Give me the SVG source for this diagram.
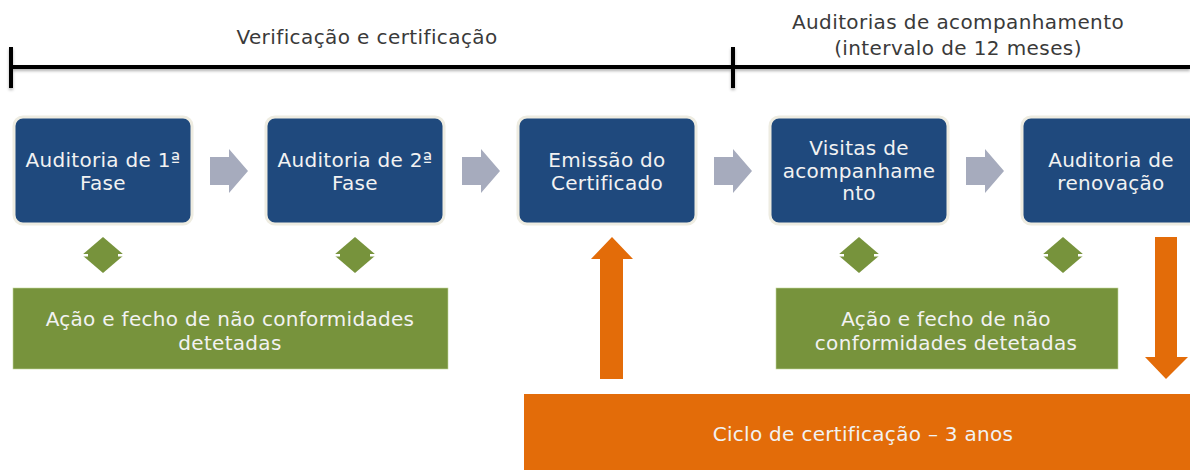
<svg xmlns="http://www.w3.org/2000/svg" width="1190" height="470" viewBox="0 0 1190 470">
<defs>
<style>
.hdr{font-family:"DejaVu Sans","Liberation Sans",sans-serif;font-size:20px;letter-spacing:0.4px;fill:#3a3a3a;text-anchor:middle}
.bt{font-family:"DejaVu Sans","Liberation Sans",sans-serif;font-size:20px;letter-spacing:0.3px;fill:#f2f2f2;text-anchor:middle}
.box{fill:#1f497d;stroke:#eeece1;stroke-width:3}
.grn{fill:#77933c;stroke:#c3d69b;stroke-width:0.6}
.org{fill:#e36c09}
.gray{fill:#a6abbd}
.dia{fill:#77933c}
.notch{fill:#ffffff}
.tl{stroke:#000;stroke-width:4;fill:none}
</style>
<filter id="sh" x="-5%" y="-50%" width="110%" height="200%">
<feDropShadow dx="0" dy="2" stdDeviation="1.5" flood-color="#000" flood-opacity="0.3"/>
</filter>
</defs>
<g id="timeline" filter="url(#sh)">
<line class="tl" x1="11" y1="67" x2="1190" y2="67"/>
<line class="tl" x1="11" y1="47" x2="11" y2="88"/>
<line class="tl" x1="733" y1="47" x2="733" y2="88"/>
</g>
<g id="labels">
<text class="hdr" x="367" y="44">Verificação e certificação</text>
<text class="hdr" x="958" y="29">Auditorias de acompanhamento</text>
<text class="hdr" x="958" y="55">(intervalo de 12 meses)</text>
</g>
<g id="connectors">
<polygon class="gray" points="210,157 229,157 229,149 248,171 229,193 229,185 210,185"/>
<polygon class="gray" points="462,157 481,157 481,149 500,171 481,193 481,185 462,185"/>
<polygon class="gray" points="714,157 733,157 733,149 752,171 733,193 733,185 714,185"/>
<polygon class="gray" points="966,157 985,157 985,149 1004,171 985,193 985,185 966,185"/>
<polygon class="org" points="600,379 623,379 623,259 633,259 612,237 591,259 600,259"/>
<polygon class="org" points="1155,237 1177,237 1177,357 1188,357 1166,379 1145,357 1155,357"/>
</g>
<g id="diamonds">
<g id="d1"><polygon class="dia" points="103,237 124,255 103,273 82,255"/><rect class="notch" x="80" y="254" width="8" height="2.5"/><rect class="notch" x="118" y="254" width="8" height="2.5"/></g>
<g id="d2"><polygon class="dia" points="355,237 376,255 355,273 334,255"/><rect class="notch" x="332" y="254" width="8" height="2.5"/><rect class="notch" x="370" y="254" width="8" height="2.5"/></g>
<g id="d4"><polygon class="dia" points="859,237 880,255 859,273 838,255"/><rect class="notch" x="836" y="254" width="8" height="2.5"/><rect class="notch" x="874" y="254" width="8" height="2.5"/></g>
<g id="d5"><polygon class="dia" points="1063,237 1084,255 1063,273 1042,255"/><rect class="notch" x="1040" y="254" width="8" height="2.5"/><rect class="notch" x="1078" y="254" width="8" height="2.5"/></g>
</g>
<g id="n1"><rect class="box" x="14" y="117" width="178" height="107" rx="9"/><text class="bt" x="103" y="167">Auditoria de 1ª</text><text class="bt" x="103" y="190">Fase</text></g>
<g id="n2"><rect class="box" x="266" y="117" width="178" height="107" rx="9"/><text class="bt" x="355" y="167">Auditoria de 2ª</text><text class="bt" x="355" y="190">Fase</text></g>
<g id="n3"><rect class="box" x="518" y="117" width="178" height="107" rx="9"/><text class="bt" x="607" y="167">Emissão do</text><text class="bt" x="607" y="190">Certificado</text></g>
<g id="n4"><rect class="box" x="770" y="117" width="178" height="107" rx="9"/><text class="bt" x="859" y="155">Visitas de</text><text class="bt" x="859" y="178">acompanhame</text><text class="bt" x="859" y="200">nto</text></g>
<g id="n5"><rect class="box" x="1022" y="117" width="178" height="107" rx="9"/><text class="bt" x="1111" y="167">Auditoria de</text><text class="bt" x="1111" y="190">renovação</text></g>
<g id="g1"><rect class="grn" x="13" y="288" width="435" height="81"/><text class="bt" x="230" y="326">Ação e fecho de não conformidades</text><text class="bt" x="230" y="350">detetadas</text></g>
<g id="g2"><rect class="grn" x="776" y="288" width="342" height="81"/><text class="bt" x="946" y="326">Ação e fecho de não</text><text class="bt" x="946" y="350">conformidades detetadas</text></g>
<g id="cycle"><rect class="org" x="524" y="394" width="670" height="80"/><text class="bt" x="863" y="441">Ciclo de certificação – 3 anos</text></g>
</svg>
